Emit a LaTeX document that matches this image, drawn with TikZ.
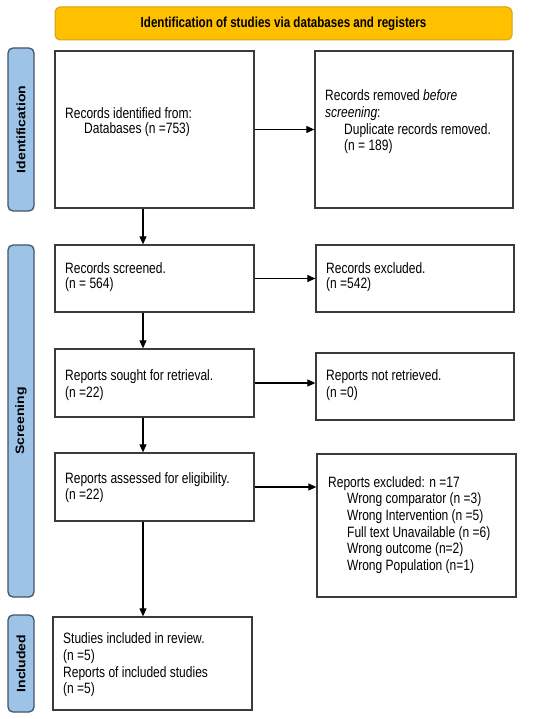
\documentclass[tikz,border=0pt]{standalone}
\usepackage{fontspec}
\setmainfont{Liberation Sans}[FakeStretch=0.8]
\newfontfamily\sidefont{Liberation Sans}[FakeStretch=1.15]
\usetikzlibrary{arrows.meta}
\definecolor{bannerfill}{HTML}{FFC000}
\definecolor{bannerdraw}{HTML}{D4A017}
\definecolor{sidefill}{HTML}{9DC3E6}
\definecolor{sidedraw}{HTML}{44546A}
\definecolor{boxdraw}{HTML}{3A3A3A}
\begin{document}
\begin{tikzpicture}[x=1pt,y=-1pt]
\tikzset{
  box/.style={draw=boxdraw, line width=1.3pt, rectangle, inner sep=0pt},
  txt/.style={anchor=west, align=left, inner sep=0pt, font=\fontsize{15}{16.7}\selectfont},
  txtb/.style={anchor=west, align=left, inner sep=0pt, font=\fontsize{15}{14.5}\selectfont},
  sidebar/.style={draw=sidedraw, fill=sidefill, line width=1.3pt, rounded corners=5pt,
    rotate=90, minimum height=26pt, inner sep=0pt, font=\sidefont\bfseries\fontsize{12.2}{14}\selectfont},
  banner/.style={draw=bannerdraw, fill=bannerfill, line width=1pt, rounded corners=5pt,
    minimum width=457pt, minimum height=33pt, inner sep=0pt, font=\bfseries\fontsize{14.5}{16}\selectfont},
  arr/.style={-{Triangle[length=8pt,width=7pt]}, line width=1.1pt, draw=black}
}
\useasboundingbox (0,0) rectangle (550,719);
\fill[white] (0,0) rectangle (550,719);

% banner
\node[banner] (ban) at (283.5,23.5) {Identification of studies via databases and registers};

% side bars
\node[sidebar, minimum width=163pt] (sid) at (21,129.5) {Identification};
\node[sidebar, minimum width=352pt] (scr) at (21,421) {Screening};
\node[sidebar, minimum width=97pt] (inc) at (21,663.5) {Included};

% boxes
\node[box, minimum width=199pt, minimum height=157pt] (b1) at (154.5,129.5) {};
\node[box, minimum width=198pt, minimum height=157pt] (b2) at (414,129.5) {};
\node[box, minimum width=199pt, minimum height=67pt] (b3) at (154.5,278.5) {};
\node[box, minimum width=198pt, minimum height=67pt] (b4) at (415,278.5) {};
\node[box, minimum width=199pt, minimum height=68pt] (b5) at (154.5,383) {};
\node[box, minimum width=198pt, minimum height=67pt] (b6) at (415,386.5) {};
\node[box, minimum width=199pt, minimum height=68pt] (b7) at (154.5,487) {};
\node[box, minimum width=199pt, minimum height=143pt] (b8) at (416.5,525.5) {};
\node[box, minimum width=199pt, minimum height=93pt] (b9) at (152.5,663.5) {};

% texts
\node[txtb] (t1) at (65,122) {Records identified from:\\\hspace*{19pt}Databases (n =753)};
\node[txt] (t2) at (325,122) {Records removed \textit{before}\\\textit{screening}:\\\hspace*{19pt}Duplicate records removed.\\\hspace*{19pt}(n = 189)};
\node[txtb] (t3) at (65,277) {Records screened.\\(n = 564)};
\node[txtb] (t4) at (326,277) {Records excluded.\\(n =542)};
\node[txt] (t5) at (65,385) {Reports sought for retrieval.\\(n =22)};
\node[txt] (t6) at (326,385) {Reports not retrieved.\\(n =0)};
\node[txt] (t7) at (65,487.5) {Reports assessed for eligibility.\\(n =22)};
\node[txt] (t8) at (328,525) {Reports excluded: n =17\\\hspace*{19pt}Wrong comparator (n =3)\\\hspace*{19pt}Wrong Intervention (n =5)\\\hspace*{19pt}Full text Unavailable (n =6)\\\hspace*{19pt}Wrong outcome (n=2)\\\hspace*{19pt}Wrong Population (n=1)};
\node[txt] (t9) at (63,665) {Studies included in review.\\(n =5)\\Reports of included studies\\(n =5)};

% connectors
\coordinate (ax) at (143,0);
\draw[arr] (b1.south -| ax) -- (b3.north -| ax);
\draw[arr] (b3.south -| ax) -- (b5.north -| ax);
\draw[arr] (b5.south -| ax) -- (b7.north -| ax);
\draw[arr] (b7.south -| ax) -- (b9.north -| ax);
\draw[arr] (b1.east) -- (b1.east -| b2.west);
\draw[arr] (b3.east) -- (b3.east -| b4.west);
\draw[arr] (b5.east) -- (b5.east -| b6.west);
\draw[arr] (b7.east) -- (b7.east -| b8.west);
\end{tikzpicture}
\end{document}
